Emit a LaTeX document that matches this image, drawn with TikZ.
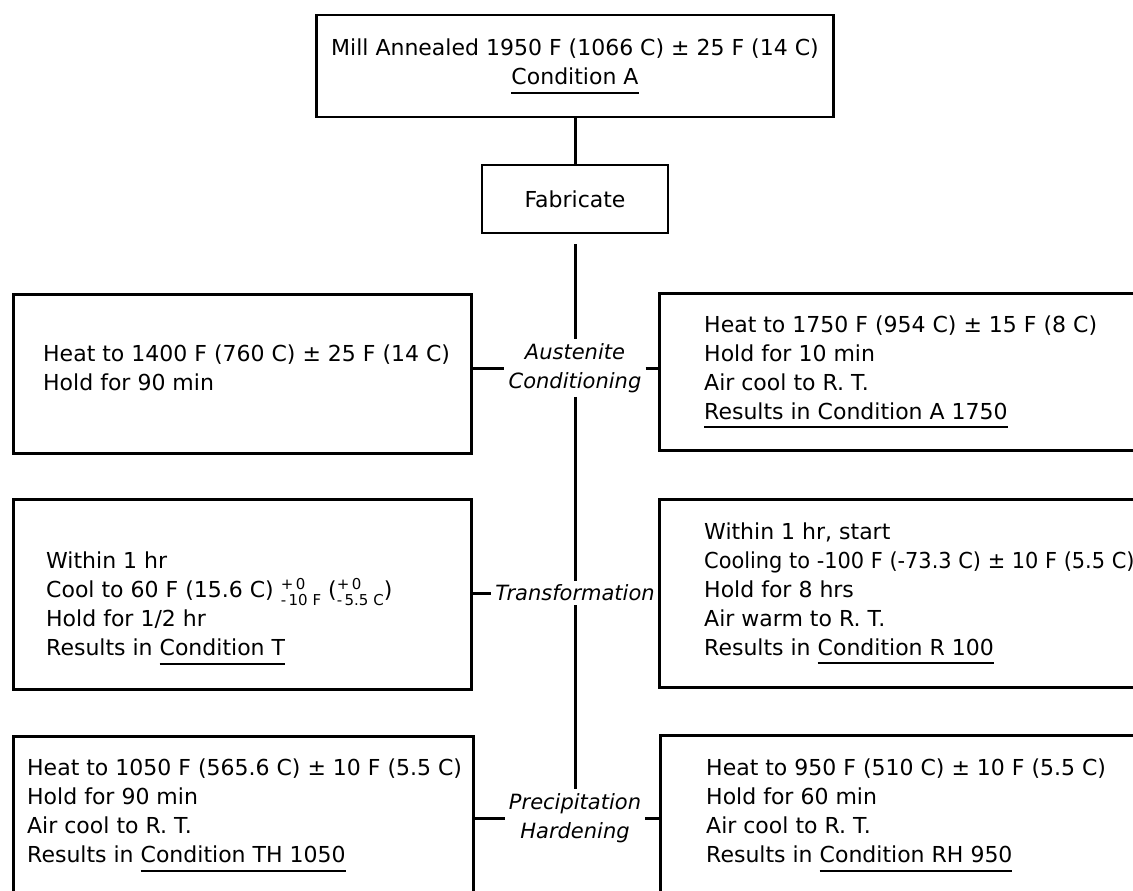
\documentclass[tikz,border=0pt]{standalone}
\usepackage{graphicx}
\usepackage{fontspec}
\setmainfont{DejaVu Sans}
\usetikzlibrary{positioning}

\newcommand{\cond}[1]{\leavevmode\vtop{\hbox{#1}\kern7pt\hrule height 2pt}}
\newcommand{\tol}[2]{{\fontsize{15}{14}\selectfont\begin{tabular}[c]{@{}l@{}}#1\\#2\end{tabular}}}

\begin{document}
\begin{tikzpicture}[x=1pt, y=-1pt,
font=\fontsize{22}{29}\selectfont,
stepbox/.style={draw, line width=2.8pt, inner sep=0pt},
steptext/.style={align=left, inner sep=0pt, anchor=west},
phase/.style={font=\fontsize{21}{29}\selectfont\itshape, align=center, inner sep=4pt},
link/.style={line width=3pt}
]
\useasboundingbox (0,0) rectangle (1133,891);
\clip (0,0) rectangle (1133,891);

% start of the route
\node[stepbox, minimum width=517, minimum height=102, align=center] (mill) at (575,66) {Mill Annealed 1950 F (1066 C) ± 25 F (14 C)\\\cond{Condition A}};
\node[stepbox, minimum width=186, minimum height=68] (fab) at (575,199) {Fabricate};

% phases on the axis
\node[phase] (aus) at (575,368) {Austenite\\Conditioning};
\node[phase] (tra) at (575,593) {Transformation};
\node[phase] (pre) at (575,818) {Precipitation\\Hardening};

% left and right routes
\node[stepbox, anchor=north west, minimum width=458, minimum height=159] (heatL) at (12,293) {};
\node[stepbox, anchor=north west, minimum width=530, minimum height=157] (heatR) at (658,292) {};
\node[stepbox, anchor=north west, minimum width=458, minimum height=190] (coolL) at (12,498) {};
\node[stepbox, anchor=north west, minimum width=530, minimum height=188] (coolR) at (658,498) {};
\node[stepbox, anchor=north west, minimum width=460, minimum height=220] (ageL) at (12,735) {};
\node[stepbox, anchor=north west, minimum width=530, minimum height=220] (ageR) at (659,734) {};

\node[steptext] (heatLt) at ([xshift=31pt, yshift=6pt]heatL.west) {Heat to 1400 F (760 C) ± 25 F (14 C)\\Hold for 90 min};
\node[steptext] (heatRt) at ([xshift=46pt]heatR.west) {Heat to 1750 F (954 C) ± 15 F (8 C)\\Hold for 10 min\\Air cool to R. T.\\\cond{Results in Condition A 1750}};
\node[steptext] (coolLt) at ([xshift=34pt, yshift=-14pt]coolL.west) {Within 1 hr\\Cool to 60 F (15.6 C) \tol{+\,0}{-\,10 F} (\tol{+\,0}{-\,5.5 C})\\Hold for 1/2 hr\\Results in \cond{Condition T}};
\node[steptext] (coolRt) at ([xshift=46pt]coolR.west) {Within 1 hr, start\\\scalebox{0.95}[1]{Cooling to -100 F (-73.3 C) ± 10 F (5.5 C)}\\Hold for 8 hrs\\Air warm to R. T.\\Results in \cond{Condition R 100}};
\node[steptext] (ageLt) at ([xshift=15pt, yshift=-80pt]ageL.north west) {Heat to 1050 F (565.6 C) ± 10 F (5.5 C)\\Hold for 90 min\\Air cool to R. T.\\Results in \cond{Condition TH 1050}};
\node[steptext] (ageRt) at ([xshift=47pt, yshift=-81pt]ageR.north west) {Heat to 950 F (510 C) ± 10 F (5.5 C)\\Hold for 60 min\\Air cool to R. T.\\Results in \cond{Condition RH 950}};

% axis
\draw[link] (mill) -- (fab);
\draw[link, shorten <=10pt] (fab) -- (aus);
\draw[link] (aus) -- (tra);
\draw[link] (tra) -- (pre);

% branches
\draw[link] (heatL.east |- aus) -- (aus);
\draw[link] (aus) -- (heatR.west |- aus);
\draw[link] (coolL.east |- tra) -- (tra);
\draw[link] (tra) -- (coolR.west |- tra);
\draw[link] (ageL.east |- pre) -- (pre);
\draw[link] (pre) -- (ageR.west |- pre);
\end{tikzpicture}
\end{document}
